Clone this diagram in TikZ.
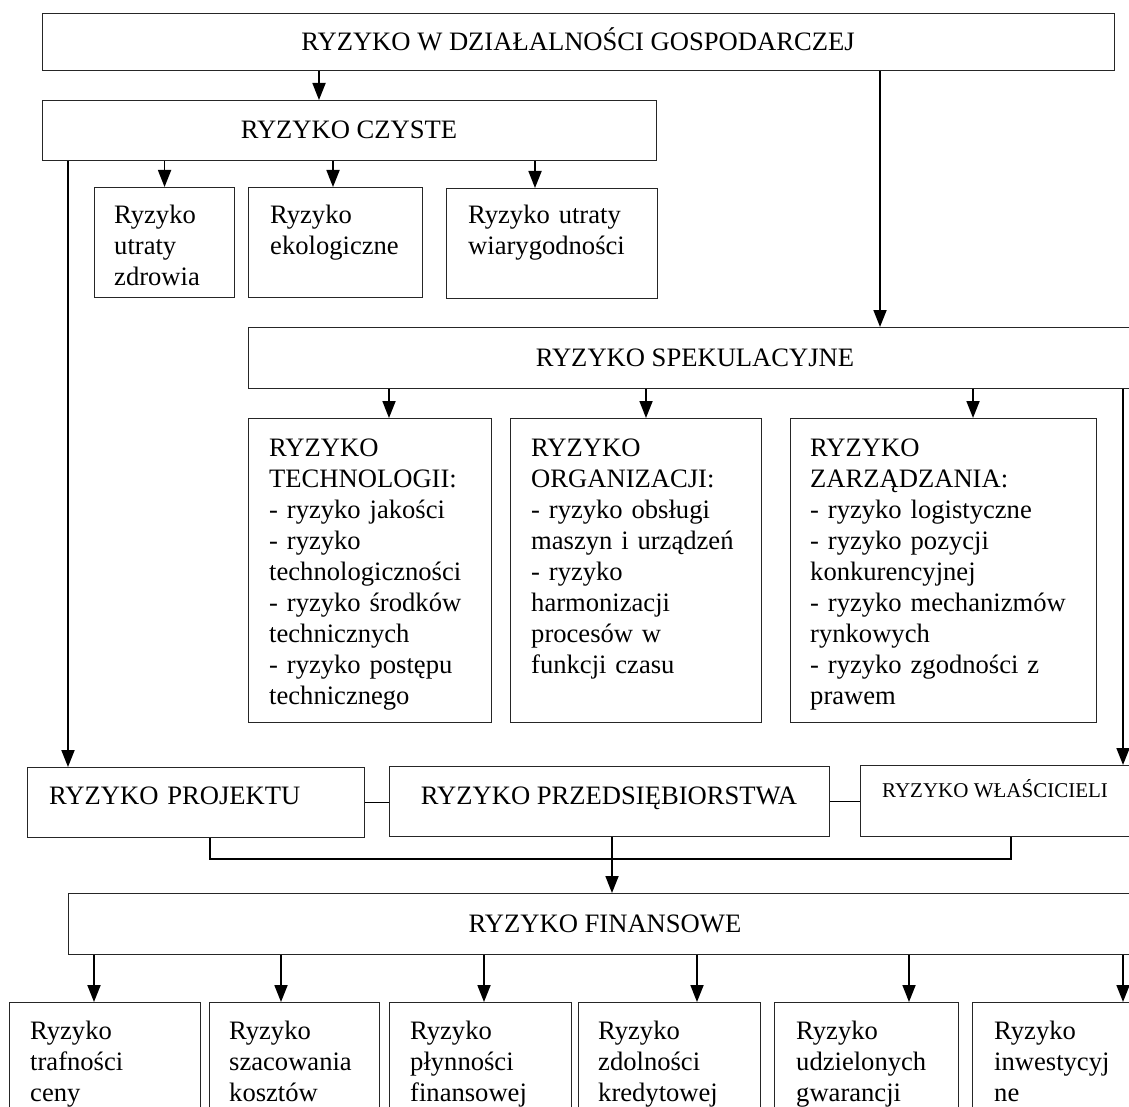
\documentclass[tikz,border=0pt]{standalone}
\usepackage{fontspec}
\setmainfont{Liberation Serif}
\usetikzlibrary{arrows.meta,calc}
\begin{document}
\begin{tikzpicture}[x=1pt,y=-1pt,
  box/.style={draw=black!85,line width=1.1pt,anchor=north west,inner sep=0pt},
  txt/.style={font=\fontsize{26.6}{31}\selectfont,inner sep=0pt},
  ltxt/.style={txt,anchor=base west,text width=330pt,align=left},
  ctxt/.style={txt,anchor=base},
  arr/.style={line width=1.8pt,-{Triangle[length=17pt,width=13pt]}},
  con/.style={line width=1.8pt}]
\useasboundingbox (0,0) rectangle (1129,1107);
\clip (0,0) rectangle (1129,1107);

% boxes
\node[box,minimum width=1072pt,minimum height=57pt] (T) at (42,13) {};
\node[box,minimum width=614pt,minimum height=60pt] (C) at (42,100) {};
\node[box,minimum width=140pt,minimum height=110pt] (S1) at (94,187) {};
\node[box,minimum width=174pt,minimum height=110pt] (S2) at (248,187) {};
\node[box,minimum width=211pt,minimum height=110pt] (S3) at (446,188) {};
\node[box,minimum width=894pt,minimum height=61pt] (SP) at (248,327) {};
\node[box,minimum width=243pt,minimum height=304pt] (TE) at (248,418) {};
\node[box,minimum width=251pt,minimum height=304pt] (OR) at (510,418) {};
\node[box,minimum width=306pt,minimum height=304pt] (ZA) at (790,418) {};
\node[box,minimum width=337pt,minimum height=70pt] (PJ) at (27,767) {};
\node[box,minimum width=440pt,minimum height=70pt] (PR) at (389,766) {};
\node[box,minimum width=282pt,minimum height=71pt] (WL) at (860,765) {};
\node[box,minimum width=1074pt,minimum height=61pt] (FI) at (68,893) {};
\node[box,minimum width=191pt,minimum height=130pt] (B1) at (9,1002) {};
\node[box,minimum width=170pt,minimum height=130pt] (B2) at (209,1002) {};
\node[box,minimum width=182pt,minimum height=130pt] (B3) at (389,1002) {};
\node[box,minimum width=182pt,minimum height=130pt] (B4) at (578,1002) {};
\node[box,minimum width=184pt,minimum height=130pt] (B5) at (774,1002) {};
\node[box,minimum width=190pt,minimum height=130pt] (B6) at (972,1002) {};

% texts
\node[ctxt] (Tt) at (578,51) {RYZYKO W DZIAŁALNOŚCI GOSPODARCZEJ};
\node[ctxt] (Ct) at (349,139) {RYZYKO CZYSTE};
\node[ltxt] (S1t) at (114,224) {Ryzyko\\utraty\\zdrowia};
\node[ltxt] (S2t) at (270,224) {Ryzyko\\ekologiczne};
\node[ltxt] (S3t) at (468,224) {Ryzyko utraty\\wiarygodności};
\node[ctxt] (SPt) at (695,366) {RYZYKO SPEKULACYJNE};
\node[ltxt] (TEt) at (269,456) {RYZYKO\\TECHNOLOGII:\\- ryzyko jakości\\- ryzyko\\technologiczności\\- ryzyko środków\\technicznych\\- ryzyko postępu\\technicznego};
\node[ltxt] (ORt) at (531,456) {RYZYKO\\ORGANIZACJI:\\- ryzyko obsługi\\maszyn i urządzeń\\- ryzyko\\harmonizacji\\procesów w\\funkcji czasu};
\node[ltxt] (ZAt) at (810,456) {RYZYKO\\ZARZĄDZANIA:\\- ryzyko logistyczne\\- ryzyko pozycji\\konkurencyjnej\\- ryzyko mechanizmów\\rynkowych\\- ryzyko zgodności z\\prawem};
\node[ltxt] (PJt) at (49,804) {RYZYKO PROJEKTU};
\node[ctxt] (PRt) at (609,804) {RYZYKO PRZEDSIĘBIORSTWA};
\node[inner sep=0pt,anchor=base west,font=\fontsize{21}{25}\selectfont] (WLt) at (882,797) {RYZYKO WŁAŚCICIELI};
\node[ctxt] (FIt) at (605,932) {RYZYKO FINANSOWE};
\node[ltxt] (B1t) at (30,1039) {Ryzyko\\trafności\\ceny};
\node[ltxt] (B2t) at (229,1039) {Ryzyko\\szacowania\\kosztów};
\node[ltxt] (B3t) at (410,1039) {Ryzyko\\płynności\\finansowej};
\node[ltxt] (B4t) at (598,1039) {Ryzyko\\zdolności\\kredytowej};
\node[ltxt] (B5t) at (796,1039) {Ryzyko\\udzielonych\\gwarancji};
\node[ltxt] (B6t) at (994,1039) {Ryzyko\\inwestycyj\\ne};

% connector anchor points
\coordinate (aC) at ($(C.north west)+(277,0)$);
\coordinate (aS2) at ($(S2.north west)+(85,0)$);
\coordinate (aS3) at ($(S3.north west)+(89,0)$);
\coordinate (aSP) at ($(SP.north west)+(632,0)$);
\coordinate (aTE) at ($(TE.north west)+(141,0)$);
\coordinate (aOR) at ($(OR.north west)+(136,0)$);
\coordinate (aZA) at ($(ZA.north west)+(183,0)$);
\coordinate (aWL) at ($(WL.north west)+(263,0)$);
\coordinate (aPJ) at ($(PJ.north west)+(41,0)$);
\coordinate (bPJ) at ($(PJ.south west)+(183,0)$);
\coordinate (bWL) at ($(WL.south west)+(151,0)$);
\coordinate (bPR) at ($(PR.south west)+(223,0)$);
\coordinate (aB1) at ($(B1.north west)+(85,0)$);
\coordinate (aB2) at ($(B2.north west)+(72,0)$);
\coordinate (aB3) at ($(B3.north west)+(95,0)$);
\coordinate (aB4) at ($(B4.north west)+(119,0)$);
\coordinate (aB5) at ($(B5.north west)+(135,0)$);
\coordinate (aB6) at ($(B6.north west)+(151,0)$);

% connectors
\draw[arr] (aC |- T.south) -- (aC);
\draw[arr] (aSP |- T.south) -- (aSP);
\draw[arr] (C.south -| S1.north) -- (S1.north);
\draw[arr] (aS2 |- C.south) -- (aS2);
\draw[arr] (aS3 |- C.south) -- (aS3);
\draw[arr] (aPJ |- C.south) -- (aPJ);
\draw[arr] (aTE |- SP.south) -- (aTE);
\draw[arr] (aOR |- SP.south) -- (aOR);
\draw[arr] (aZA |- SP.south) -- (aZA);
\draw[arr] (aWL |- SP.south) -- (aWL);
\draw[con] (PJ.east) -- (PJ.east -| PR.west);
\draw[con] (PR.east) -- (PR.east -| WL.west);
\draw[con] (bPJ) -- ++(0,21) -| (bWL);
\draw[arr] (bPR) -- (bPR |- FI.north);
\draw[arr] (aB1 |- FI.south) -- (aB1);
\draw[arr] (aB2 |- FI.south) -- (aB2);
\draw[arr] (aB3 |- FI.south) -- (aB3);
\draw[arr] (aB4 |- FI.south) -- (aB4);
\draw[arr] (aB5 |- FI.south) -- (aB5);
\draw[arr] (aB6 |- FI.south) -- (aB6);
\end{tikzpicture}
\end{document}
